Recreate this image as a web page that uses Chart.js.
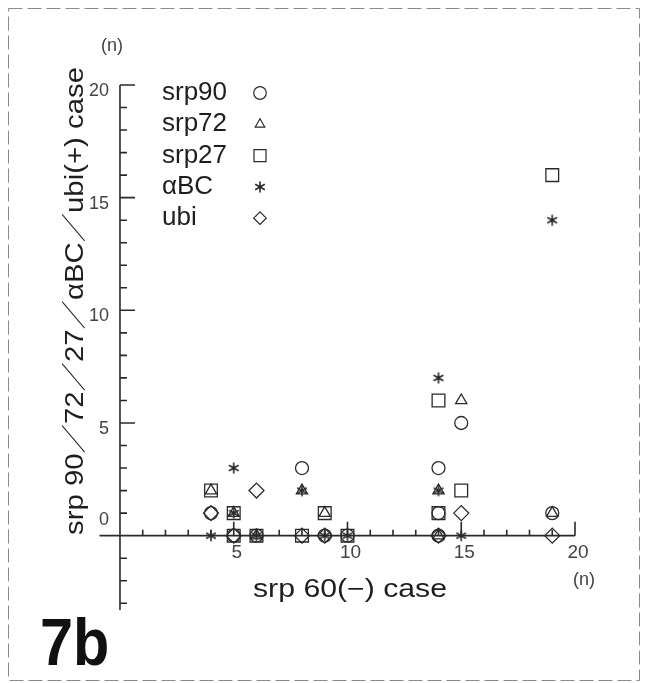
<!DOCTYPE html>
<html>
<head>
<meta charset="utf-8">
<script src="https://cdn.jsdelivr.net/npm/chart.js@4/dist/chart.umd.min.js"></script>
<style>
  html, body { margin: 0; padding: 0; background: #fff; }
  #wrap { width: 646px; height: 683px; }
</style>
</head>
<body>
<div id="wrap"><canvas id="grafico" width="646" height="683"></canvas></div>
<script>
// pontos: [srp60(-), contagem]
var nomes = ['srp90', 'srp72', 'srp27', '\u03B1BC', 'ubi'];
var srp90 = [[4, 1], [5, 0], [6, 0], [8, 3], [9, 0], [10, 0], [14, 3], [14, 1], [14, 0], [15, 5], [19, 1]];
var srp72 = [[4, 2], [5, 1], [6, 0], [8, 2], [9, 1], [14, 2], [14, 0], [15, 6], [19, 1]];
var srp27 = [[4, 2], [5, 1], [5, 0], [6, 0], [8, 0], [9, 1], [10, 0], [14, 6], [14, 1], [15, 2], [19, 16]];
var alfaBC = [[4, 0], [5, 3], [5, 1], [6, 0], [8, 2], [9, 0], [10, 0], [14, 7], [14, 2], [15, 0], [19, 14]];
var ubi = [[4, 1], [5, 0], [6, 2], [8, 0], [9, 0], [14, 0], [15, 1], [19, 0]];

var ticksX = [5, 10, 15, 20];
var ticksY = [0, 5, 10, 15, 20];

var corTraco = '#2a2a2a';

function fazerAsterisco(r) {
  var c = document.createElement('canvas');
  var s = Math.ceil(r * 2 + 4);
  c.width = s; c.height = s;
  var g = c.getContext('2d');
  g.strokeStyle = corTraco;
  g.lineWidth = 1.6;
  g.lineCap = 'round';
  g.beginPath();
  for (var k = 0; k < 3; k++) {
    var a = Math.PI / 2 + k * Math.PI / 3;
    g.moveTo(s / 2 + Math.cos(a) * r, s / 2 + Math.sin(a) * r);
    g.lineTo(s / 2 - Math.cos(a) * r, s / 2 - Math.sin(a) * r);
  }
  g.stroke();
  return c;
}
var asterisco = fazerAsterisco(5);

function pontos(lista) {
  return lista.map(function (p) { return { x: p[0], y: p[1] }; });
}

function serie(nome, lista, estilo, raio) {
  return {
    label: nome,
    data: pontos(lista),
    pointStyle: estilo,
    pointRadius: raio,
    borderColor: corTraco,
    backgroundColor: 'rgba(0,0,0,0)',
    borderWidth: 1.3,
    clip: false
  };
}

var eixos = {
  id: 'eixos',
  beforeDatasetsDraw: function (chart) {
    var ctx = chart.ctx;
    var xs = chart.scales.x, ys = chart.scales.y;
    var x0 = xs.getPixelForValue(0), y0 = ys.getPixelForValue(0);

    // moldura tracejada
    ctx.save();
    ctx.strokeStyle = '#8a8a8a';
    ctx.lineWidth = 1;
    ctx.setLineDash([14, 5]);
    ctx.strokeRect(8.5, 8.5, 631, 672);
    ctx.restore();

    ctx.save();
    ctx.strokeStyle = corTraco;
    ctx.lineWidth = 1.6;
    ctx.beginPath();
    ctx.moveTo(x0, ys.getPixelForValue(ys.max));
    ctx.lineTo(x0, ys.getPixelForValue(ys.min));
    ctx.moveTo(xs.getPixelForValue(xs.min), y0);
    ctx.lineTo(xs.getPixelForValue(xs.max), y0);
    var v, p, len;
    for (v = -3; v <= 20; v++) {
      if (v === 0) continue;
      p = ys.getPixelForValue(v);
      len = v % 5 === 0 ? 15 : 7;
      ctx.moveTo(x0, p);
      ctx.lineTo(x0 + len, p);
    }
    for (v = 1; v <= 20; v++) {
      p = xs.getPixelForValue(v);
      len = v % 5 === 0 ? 14 : 6;
      ctx.moveTo(p, y0);
      ctx.lineTo(p, y0 - len);
    }
    ctx.stroke();
    ctx.restore();
  },
  afterDraw: function (chart) {
    var ctx = chart.ctx;
    var xs = chart.scales.x, ys = chart.scales.y;
    var x0 = xs.getPixelForValue(0), y0 = ys.getPixelForValue(0);
    ctx.save();
    ctx.fillStyle = '#444';
    ctx.textBaseline = 'middle';

    ctx.font = '18px "Liberation Sans", Arial, sans-serif';
    ctx.textAlign = 'right';
    ticksY.forEach(function (v) {
      var py = v === 0 ? y0 - 16 : ys.getPixelForValue(v) + 6;
      ctx.fillText(String(v), x0 - 11, py);
    });
    ctx.textAlign = 'center';
    ctx.font = '19px "Liberation Sans", Arial, sans-serif';
    ticksX.forEach(function (v) {
      ctx.fillText(String(v), xs.getPixelForValue(v) + 3, y0 + 17);
    });
    ctx.font = '18px "Liberation Sans", Arial, sans-serif';
    ctx.fillText('(n)', 112, 46);
    ctx.fillText('(n)', 584, 580);

    ctx.fillStyle = '#1e1e1e';
    // titulo eixo x
    ctx.font = '25px "Liberation Sans", Arial, sans-serif';
    var tx = 'srp 60(\u2212) case';
    var w = ctx.measureText(tx).width;
    ctx.save();
    ctx.translate(350, 590);
    ctx.scale(194 / w, 1);
    ctx.fillText(tx, 0, 0);
    ctx.restore();

    // titulo eixo y
    var ty = 'srp 90\uFF0F72\uFF0F27\uFF0F\u03B1BC\uFF0Fubi(+) case';
    ctx.font = '25px "Liberation Sans", "Noto Sans CJK JP", sans-serif';
    w = ctx.measureText(ty).width;
    ctx.save();
    ctx.translate(76, 301);
    ctx.rotate(-Math.PI / 2);
    ctx.scale(468 / w, 1);
    ctx.fillText(ty, 0, 0);
    ctx.restore();

    // legenda
    ctx.textAlign = 'left';
    ctx.font = '26px "Liberation Sans", Arial, sans-serif';
    chart.data.datasets.forEach(function (ds, i) {
      var ly = 93 + i * 31.3;
      ctx.fillStyle = '#1e1e1e';
      ctx.fillText(ds.label, 162, ly);
      var raio = ds.pointStyle === 'triangle' ? 5.5 : ds.pointStyle === 'rect' ? 8.5 : 6.3;
      ctx.save();
      ctx.fillStyle = 'rgba(0,0,0,0)';
      ctx.strokeStyle = corTraco;
      ctx.lineWidth = 1.2;
      Chart.helpers.drawPoint(ctx, {
        pointStyle: ds.pointStyle,
        radius: raio,
        borderWidth: 1.2
      }, 260, ly);
      ctx.restore();
    });

    // rotulo do painel
    ctx.font = 'bold 66px "Liberation Sans", Arial, sans-serif';
    ctx.textBaseline = 'alphabetic';
    ctx.fillStyle = '#111';
    ctx.save();
    ctx.translate(40, 665);
    ctx.scale(0.9, 1);
    ctx.fillText('7b', 0, 0);
    ctx.restore();
    ctx.restore();
  }
};

new Chart(document.getElementById('grafico').getContext('2d'), {
  type: 'scatter',
  data: {
    datasets: [
      serie(nomes[0], srp90, 'circle', 6.5),
      serie(nomes[1], srp72, 'triangle', 6.5),
      serie(nomes[2], srp27, 'rect', 9),
      serie(nomes[3], alfaBC, asterisco, 5),
      serie(nomes[4], ubi, 'rectRot', 7.5)
    ]
  },
  options: {
    responsive: false,
    animation: false,
    events: [],
    layout: { padding: { left: 99.5, right: 71, top: 85, bottom: 73 } },
    scales: {
      x: { type: 'linear', min: -0.9, max: 20, display: false },
      y: { type: 'linear', min: -3.3, max: 20, display: false }
    },
    plugins: {
      legend: { display: false },
      tooltip: { enabled: false }
    }
  },
  plugins: [eixos]
});
</script>
</body>
</html>
